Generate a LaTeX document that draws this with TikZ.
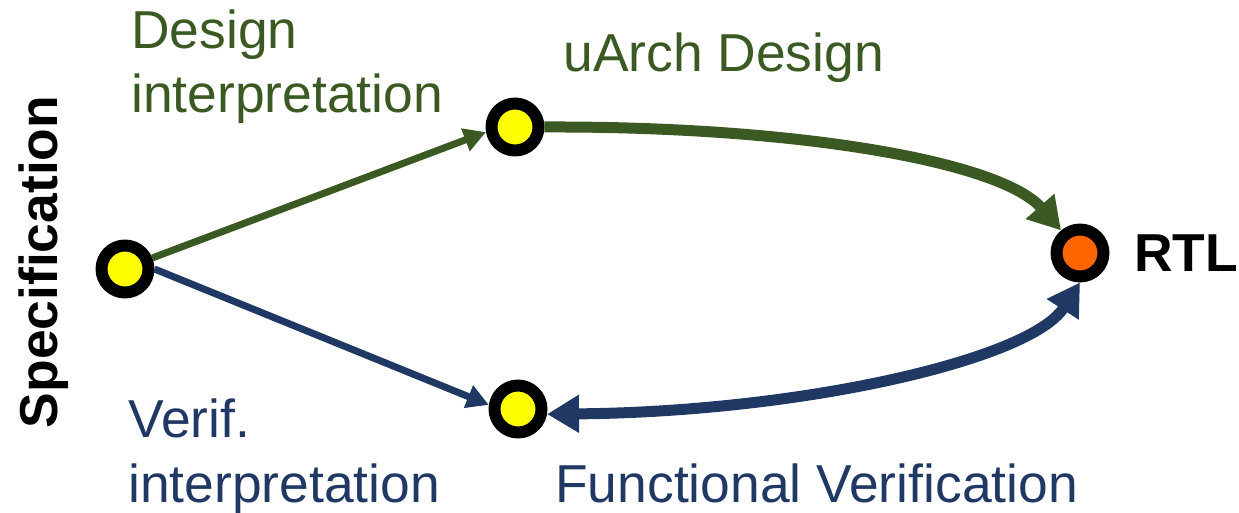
\documentclass[tikz,border=0pt]{standalone}
\usepackage{fontspec}
\setmainfont{Liberation Sans}
\usetikzlibrary{arrows.meta}

\definecolor{dkgreen}{RGB}{59,89,35}
\definecolor{dkblue}{RGB}{31,56,100}
\definecolor{dotyellow}{RGB}{255,255,0}
\definecolor{dotorange}{RGB}{255,102,0}

\begin{document}
\begin{tikzpicture}[x=0.02cm, y=-0.02cm,
  dot/.style={circle, draw=black, line width=6.8pt, fill=dotyellow,
              minimum size=0.94cm, inner sep=0pt},
  lbl/.style={inner sep=0pt, font=\fontsize{30.4}{36}\selectfont},
  thinarrow/.style={line width=0.14cm, -{Triangle[length=0.44cm, width=0.46cm]}},
  thickarrow/.style={line width=0.22cm, -{Triangle[length=0.64cm, width=0.72cm]}},
  boththick/.style={line width=0.22cm,
    {Triangle[length=0.64cm, width=0.72cm]}-{Triangle[length=0.64cm, width=0.72cm]}}]

  \useasboundingbox (0,0) rectangle (1239,513);

  % the four stages
  \node[dot] (spec)  at (125,269) {};
  \node[dot] (uarch) at (515,127) {};
  \node[dot] (verif) at (518,409) {};
  \node[dot, fill=dotorange] (rtl) at (1080,253) {};

  % labels
  \node[lbl, font=\fontsize{30.4}{36}\selectfont\bfseries, rotate=90, anchor=base]
       (speclabel) at (57,262) {Specification};
  \node[lbl, text=dkgreen, anchor=base west] (dint1) at (131,49)  {Design};
  \node[lbl, text=dkgreen, anchor=base west] (dint2) at (131,113) {interpretation};
  \node[lbl, text=dkgreen, anchor=base west] (uarchlabel) at (563,72) {uArch Design};
  \node[lbl, text=dkblue, anchor=base west] (vint1) at (128,437) {Verif.};
  \node[lbl, text=dkblue, anchor=base west] (vint2) at (128,502) {interpretation};
  \node[lbl, text=dkblue, anchor=base west] (fvlabel) at (555,502) {Functional Verification};
  \node[lbl, font=\fontsize{30.4}{36}\selectfont\bfseries, anchor=base west]
       (rtllabel) at (1134,271) {RTL};

  % interpretations of the specification
  \draw[thinarrow, dkgreen] (spec.22) -- (uarch.190);
  \draw[thinarrow, dkblue]  (spec.east) -- (verif.172);

  % implementation and verification paths to RTL
  \draw[thickarrow, dkgreen] (uarch.east)
       .. controls (800,126) and (1001,162) .. (rtl.130);
  \draw[boththick, dkblue] (verif.-10)
       .. controls (800,412) and (1030,360) .. (rtl.south);
\end{tikzpicture}
\end{document}
